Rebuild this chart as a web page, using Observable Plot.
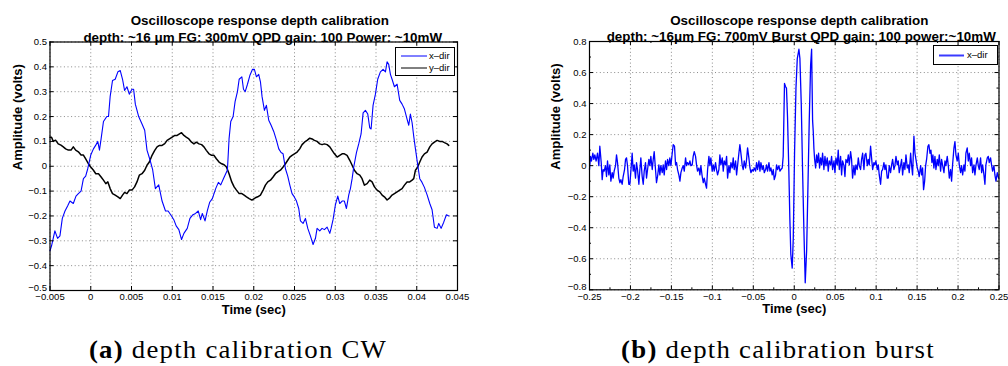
<!DOCTYPE html>
<html>
<head>
<meta charset="utf-8">
<script src="https://cdn.jsdelivr.net/npm/d3@7"></script>
<script src="https://cdn.jsdelivr.net/npm/@observablehq/plot@0.6"></script>
<style>
  html, body { margin: 0; padding: 0; background: #fff; }
  #wrap { position: relative; width: 1008px; height: 366px; overflow: hidden; background: #fff; font-family: "Liberation Sans", Arial, sans-serif; }
  .abs { position: absolute; }
  .legend { position: absolute; background: #fff; border: 1px solid #000; font-size: 9.5px; color: #000; }
  .legend svg { position: absolute; left: 0; top: 0; overflow: visible; }
  .legend .lb { position: absolute; left: 33px; height: 12px; line-height: 12px; white-space: nowrap; }
  .caption { position: absolute; font-family: "Liberation Serif", "DejaVu Serif", serif; font-size: 26px; line-height: 26px; letter-spacing: 1.2px; color: #000; text-align: center; white-space: nowrap; width: 504px; transform: scaleX(1.03); transform-origin: 50% 50%; }
</style>
</head>
<body>
<div id="wrap">
  <div id="p1" class="abs" style="left:0;top:0"></div>
  <div id="p2" class="abs" style="left:504px;top:0"></div>
  <div class="legend" style="left:395px;top:47px;width:58px;height:27px;">
    <svg width="58" height="27"><line x1="5" x2="31" y1="8" y2="8" stroke="#0000ff" stroke-width="1"/><line x1="5" x2="31" y1="20" y2="20" stroke="#000" stroke-width="1"/></svg>
    <div class="lb" style="top:2px">x–dir</div>
    <div class="lb" style="top:14px">y–dir</div>
  </div>
  <div class="legend" style="left:933px;top:45px;width:63px;height:18px;">
    <svg width="63" height="18"><line x1="5" x2="30" y1="9.5" y2="9.5" stroke="#3a3aff" stroke-width="2"/></svg>
    <div class="lb" style="top:3px">x–dir</div>
  </div>
  <div class="caption" style="left:-14px;top:337px;"><b>(a)</b> depth calibration CW</div>
  <div class="caption" style="left:526px;top:337px;"><b>(b)</b> depth calibration burst</div>
</div>
<script>
// ---------- Data: CW depth calibration (time in ms, amplitude in volts) ----------
const cwXdir = [[-5.0,-0.34],[-4.81,-0.32],[-4.40,-0.26],[-4.07,-0.29],[-3.78,-0.28],[-3.49,-0.21],[-3.16,-0.18],[-2.84,-0.16],[-2.55,-0.14],[-2.14,-0.15],[-1.81,-0.12],[-1.52,-0.11],[-1.19,-0.10],[-0.90,-0.05],[-0.62,-0.04],[-0.37,-0.01],[0,0.045],[0.33,0.07],[0.62,0.085],[0.86,0.10],[1.07,0.065],[1.27,0.11],[1.56,0.18],[1.97,0.20],[2.18,0.20],[2.38,0.28],[2.67,0.345],[3.00,0.35],[3.33,0.38],[3.62,0.385],[3.90,0.35],[4.15,0.305],[4.44,0.32],[4.73,0.29],[5.06,0.31],[5.26,0.31],[5.47,0.25],[5.88,0.20],[6.29,0.17],[6.62,0.145],[6.90,0.065],[7.32,0.02],[7.60,-0.015],[7.93,-0.09],[8.34,-0.075],[8.75,-0.14],[9.17,-0.18],[9.49,-0.18],[9.91,-0.20],[10.19,-0.215],[10.48,-0.24],[10.81,-0.255],[11.14,-0.295],[11.43,-0.27],[11.84,-0.25],[12.17,-0.21],[12.54,-0.195],[12.86,-0.19],[13.19,-0.18],[13.48,-0.215],[13.69,-0.19],[14.02,-0.22],[14.30,-0.18],[14.59,-0.145],[14.92,-0.13],[15.33,-0.09],[15.66,-0.065],[15.95,-0.075],[16.28,-0.05],[16.56,-0.03],[16.77,-0.015],[16.97,0.11],[17.18,0.18],[17.47,0.20],[17.71,0.26],[18.00,0.30],[18.21,0.35],[18.54,0.36],[18.74,0.31],[18.95,0.30],[19.23,0.33],[19.52,0.365],[19.85,0.39],[20.08,0.39],[20.33,0.36],[20.61,0.37],[20.82,0.34],[21.02,0.28],[21.31,0.225],[21.55,0.245],[21.84,0.185],[22.13,0.165],[22.45,0.14],[22.78,0.105],[23.07,0.07],[23.35,0.055],[23.60,0.05],[23.89,-0.01],[24.17,-0.04],[24.42,-0.075],[24.70,-0.11],[24.91,-0.12],[25.24,-0.14],[25.52,-0.17],[25.73,-0.22],[26.05,-0.23],[26.34,-0.21],[26.63,-0.25],[26.95,-0.28],[27.28,-0.315],[27.57,-0.29],[27.77,-0.25],[28.10,-0.26],[28.38,-0.25],[28.67,-0.255],[29.00,-0.245],[29.33,-0.27],[29.49,-0.25],[29.73,-0.215],[30.02,-0.155],[30.31,-0.12],[30.55,-0.15],[30.84,-0.14],[31.12,-0.14],[31.37,-0.17],[31.66,-0.115],[31.86,-0.09],[32.07,-0.05],[32.27,-0.003],[32.60,0.055],[32.88,0.09],[33.17,0.13],[33.42,0.215],[33.70,0.225],[33.99,0.21],[34.23,0.155],[34.40,0.15],[34.64,0.245],[34.93,0.29],[35.21,0.35],[35.54,0.38],[35.87,0.39],[36.16,0.38],[36.36,0.42],[36.56,0.41],[36.77,0.37],[36.97,0.35],[37.26,0.32],[37.59,0.33],[37.91,0.265],[38.20,0.25],[38.49,0.23],[38.81,0.19],[39.02,0.165],[39.22,0.21],[39.43,0.175],[39.63,0.12],[39.84,0.07],[40.12,0.005],[40.37,-0.05],[40.65,-0.065],[40.94,-0.085],[41.27,-0.115],[41.60,-0.15],[41.88,-0.175],[42.17,-0.245],[42.50,-0.25],[42.70,-0.23],[42.99,-0.25],[43.31,-0.225],[43.64,-0.195],[43.93,-0.2]];

const cwYdir = [[-5.0,0.117],[-4.81,0.117],[-4.60,0.10],[-4.32,0.105],[-3.99,0.09],[-3.66,0.085],[-3.37,0.078],[-3.08,0.07],[-2.75,0.065],[-2.42,0.065],[-2.14,0.078],[-1.85,0.065],[-1.52,0.058],[-1.19,0.045],[-0.90,0.045],[-0.62,0.03],[-0.29,0.01],[0,-0.003],[0.33,-0.016],[0.62,-0.03],[0.95,-0.03],[1.27,-0.043],[1.56,-0.056],[1.85,-0.07],[2.10,-0.063],[2.38,-0.09],[2.67,-0.11],[3.00,-0.116],[3.33,-0.123],[3.62,-0.13],[3.90,-0.116],[4.15,-0.105],[4.44,-0.11],[4.73,-0.096],[5.06,-0.096],[5.38,-0.083],[5.67,-0.063],[5.96,-0.036],[6.29,-0.03],[6.62,-0.016],[6.90,0.004],[7.19,0.017],[7.52,0.044],[7.85,0.064],[8.14,0.078],[8.43,0.084],[8.75,0.084],[9.08,0.091],[9.37,0.104],[9.66,0.11],[9.99,0.117],[10.32,0.124],[10.60,0.124],[10.89,0.13],[11.14,0.135],[11.43,0.124],[11.71,0.117],[12.04,0.11],[12.37,0.097],[12.66,0.09],[12.95,0.097],[13.28,0.09],[13.60,0.087],[13.89,0.078],[14.18,0.064],[14.51,0.05],[14.84,0.044],[15.12,0.044],[15.41,0.03],[15.74,0.017],[16.07,0.01],[16.36,0.006],[16.65,-0.003],[16.97,-0.03],[17.30,-0.063],[17.59,-0.083],[17.88,-0.096],[18.21,-0.11],[18.54,-0.11],[18.82,-0.116],[19.11,-0.123],[19.44,-0.13],[19.77,-0.136],[20.20,-0.127],[20.49,-0.123],[20.82,-0.116],[21.15,-0.096],[21.43,-0.076],[21.72,-0.063],[22.05,-0.056],[22.37,-0.043],[22.66,-0.03],[22.94,-0.023],[23.27,-0.016],[23.60,-0.003],[23.89,0.01],[24.17,0.024],[24.42,0.037],[24.70,0.044],[24.99,0.05],[25.32,0.057],[25.64,0.07],[25.93,0.087],[26.22,0.097],[26.54,0.104],[26.87,0.113],[27.16,0.11],[27.44,0.104],[27.77,0.10],[28.10,0.09],[28.38,0.087],[28.67,0.09],[29.00,0.087],[29.33,0.078],[29.61,0.064],[29.90,0.05],[30.23,0.037],[30.55,0.044],[30.84,0.05],[31.12,0.05],[31.45,0.044],[31.78,0.024],[32.07,0.004],[32.35,-0.016],[32.68,-0.03],[33.01,-0.036],[33.29,-0.05],[33.58,-0.076],[33.91,-0.07],[34.23,-0.056],[34.52,-0.063],[34.81,-0.083],[35.13,-0.096],[35.46,-0.103],[35.75,-0.116],[36.03,-0.123],[36.36,-0.136],[36.69,-0.127],[36.97,-0.116],[37.26,-0.11],[37.59,-0.103],[37.91,-0.096],[38.20,-0.09],[38.49,-0.076],[38.81,-0.063],[39.14,-0.063],[39.43,-0.056],[39.63,-0.05],[39.84,-0.016],[40.12,-0.003],[40.37,0.017],[40.65,0.037],[40.94,0.05],[41.27,0.057],[41.60,0.078],[41.88,0.09],[42.17,0.097],[42.50,0.104],[42.82,0.10],[43.11,0.10],[43.40,0.095],[43.72,0.09],[43.93,0.084]];

// ---------- Data: burst depth calibration (time in ms, amplitude in volts) ----------
const burstXdir = [[-250.0,-0.025],[-248.8,0.06],[-247.6,0.03],[-245.9,0.08],[-244.7,0.04],[-243.5,0.07],[-241.9,0.03],[-240.2,0.08],[-238.6,0],[-237.4,0.125],[-235.7,0.02],[-234.5,-0.09],[-233.3,-0.025],[-232.1,-0.035],[-230.5,0],[-229.2,-0.07],[-228.0,0.03],[-226.4,-0.06],[-225.2,0.005],[-223.9,-0.1],[-222.3,-0.045],[-221.1,-0.08],[-219.9,-0.035],[-218.2,0],[-217.0,0.07],[-215.8,0.02],[-214.2,-0.08],[-212.9,-0.11],[-211.7,-0.09],[-210.1,-0.12],[-208.9,-0.07],[-207.2,-0.025],[-206.0,0.04],[-204.8,0.05],[-203.6,0],[-202.0,-0.12],[-200.7,-0.12],[-199.5,-0.035],[-197.9,0.08],[-196.7,-0.035],[-195.4,0.005],[-193.8,-0.08],[-192.6,0.02],[-191.4,-0.025],[-189.7,-0.12],[-188.5,-0.025],[-187.3,0.05],[-185.7,-0.07],[-184.4,-0.12],[-183.2,-0.035],[-181.6,0.02],[-180.4,-0.08],[-179.1,-0.025],[-177.5,0.04],[-176.3,0],[-175.1,0.06],[-173.4,-0.025],[-172.2,0.04],[-171.0,0.09],[-169.4,-0.025],[-168.2,-0.11],[-166.9,-0.07],[-165.3,0.005],[-164.1,-0.06],[-162.9,0],[-161.2,-0.045],[-160.0,0.005],[-158.8,-0.06],[-157.2,0.03],[-155.9,-0.025],[-154.7,0.04],[-153.1,0],[-151.9,0.05],[-150.6,0],[-149.0,0.08],[-147.8,0.135],[-146.2,0.125],[-144.9,0.005],[-143.7,0.02],[-142.5,-0.025],[-140.9,-0.06],[-139.6,-0.1],[-138.4,-0.045],[-136.8,-0.015],[-135.6,0],[-134.3,-0.035],[-132.7,0.05],[-131.5,0],[-130.3,0.02],[-128.7,0.005],[-127.4,0.03],[-126.2,0],[-124.6,0.005],[-123.4,0.06],[-122.1,0.09],[-120.5,0.06],[-119.3,0.005],[-118.1,-0.035],[-116.4,-0.015],[-115.2,-0.06],[-114.0,0],[-112.4,-0.07],[-111.1,-0.11],[-109.9,-0.08],[-108.3,-0.12],[-107.1,-0.145],[-105.8,-0.025],[-104.2,0.06],[-103.0,0],[-101.8,0.05],[-100.2,-0.035],[-98.9,0.005],[-97.7,-0.035],[-96.1,0.02],[-94.9,-0.025],[-93.6,-0.06],[-92.0,-0.025],[-90.8,0.07],[-89.6,0.005],[-87.9,0.05],[-86.7,-0.035],[-85.5,0.03],[-83.9,0.005],[-82.6,0.06],[-81.4,-0.08],[-79.8,0],[-78.6,-0.045],[-77.3,0.02],[-75.7,-0.015],[-74.5,0.05],[-73.3,-0.025],[-71.6,0.03],[-70.4,-0.06],[-69.2,0],[-67.6,0.08],[-66.4,0.135],[-64.7,0.06],[-63.5,0],[-62.3,-0.025],[-61.1,0.03],[-59.4,-0.015],[-58.2,0.04],[-57.0,0.115],[-55.4,0.05],[-54.1,-0.015],[-52.9,-0.045],[-51.3,-0.025],[-50.1,-0.035],[-48.8,-0.015],[-47.2,-0.035],[-46.0,0.02],[-44.8,-0.025],[-43.1,0.03],[-41.9,-0.035],[-40.7,0.02],[-39.1,-0.025],[-37.8,0],[-36.6,-0.045],[-35.0,-0.025],[-33.8,0.005],[-32.6,-0.035],[-30.9,0.02],[-29.7,-0.035],[-28.5,-0.015],[-26.9,-0.06],[-25.6,-0.025],[-24.4,-0.09],[-22.8,-0.06],[-21.6,0.005],[-20.3,-0.025],[-18.7,0],[-17.5,-0.035],[-16.3,-0.025],[-14.7,-0.015],[-13.5,0.06],[-11.9,0.53],[-10.7,0.51],[-9.5,0.50],[-8.2,0.31],[-6.6,-0.035],[-5.4,-0.335],[-4.2,-0.57],[-2.5,-0.66],[-1.2,-0.47],[0.4,0.09],[2.1,0.5],[3.7,0.69],[5.7,0.75],[6.9,0.69],[8.6,0.39],[10.2,-0.04],[11.8,-0.42],[13.4,-0.755],[15.1,-0.55],[16.7,-0.14],[18.3,0.29],[20.0,0.65],[21.2,0.75],[22.4,0.29],[23.2,0.22],[24.0,0.11],[24.9,0.04],[26.1,-0.015],[27.3,0.07],[28.5,0.02],[29.7,0.08],[30.9,-0.015],[32.2,0.05],[33.4,0.005],[34.6,0.08],[36.2,-0.025],[37.5,0.06],[38.7,0],[40.3,0.05],[41.5,-0.035],[42.8,0.03],[44.4,0.005],[45.6,0.06],[46.8,-0.025],[48.5,0.03],[49.7,-0.045],[50.9,0.05],[52.5,0.005],[53.7,0.1],[55.0,-0.025],[56.6,0.06],[57.8,-0.06],[59.0,0.03],[60.7,0],[61.9,-0.07],[63.1,0.04],[64.7,0.02],[66.0,0.07],[67.2,0.005],[68.8,0.09],[70.0,0.04],[71.2,-0.08],[72.9,0],[74.1,-0.06],[75.3,0.005],[76.9,-0.025],[78.2,0.05],[79.4,0],[81.0,-0.025],[82.2,0.04],[83.5,0.08],[85.1,-0.025],[86.3,0.07],[87.5,0.08],[89.2,0],[90.4,0.04],[91.6,0.005],[93.2,0.125],[94.4,0.05],[95.7,-0.025],[97.3,0.02],[98.5,0.005],[99.7,0.03],[101.4,-0.025],[102.6,0.005],[103.8,-0.06],[105.4,-0.12],[106.7,-0.035],[107.9,-0.025],[109.5,0.02],[110.7,-0.025],[111.9,0.005],[113.6,-0.08],[114.8,-0.08],[116.0,0],[117.6,-0.045],[118.9,0.005],[120.1,0.04],[121.7,-0.025],[122.9,0],[124.2,0.06],[125.8,0.005],[127.0,0.03],[128.2,-0.045],[129.8,0],[131.1,0.04],[132.3,-0.06],[133.9,0.02],[135.1,-0.025],[136.4,0.07],[138.0,-0.015],[139.2,0.005],[140.4,-0.045],[142.1,0.08],[143.3,0],[144.5,-0.06],[146.1,0.19],[147.4,0.08],[148.6,0.04],[150.2,-0.015],[151.4,-0.035],[152.6,-0.07],[154.3,0],[155.5,-0.06],[156.7,-0.015],[157.9,-0.155],[159.2,-0.1],[160.4,0],[161.6,0.04],[163.2,0.125],[164.4,0.135],[165.7,0.08],[166.9,0.1],[168.1,0.02],[169.3,0.07],[170.5,-0.015],[171.8,0.06],[173.0,-0.025],[174.6,0.04],[175.8,0],[177.1,0.07],[178.7,-0.035],[179.9,0.04],[181.1,0.005],[182.8,-0.045],[184.0,0.03],[185.2,0],[186.8,0.06],[188.1,0],[189.3,-0.08],[190.9,-0.025],[192.1,-0.1],[193.3,0.005],[195.0,0.115],[196.2,0.155],[197.4,0.07],[199.0,0.03],[200.3,0.08],[201.5,0.005],[203.1,-0.045],[204.3,0],[205.6,-0.06],[207.2,0.005],[208.4,-0.035],[209.6,0.08],[211.2,0.115],[212.5,0.03],[213.7,0.08],[215.3,0],[216.5,0.05],[217.8,-0.045],[219.4,0.005],[220.6,-0.06],[221.8,0],[223.5,0.05],[224.7,0],[225.9,-0.025],[227.5,0.05],[228.8,-0.045],[230.0,0.005],[231.6,-0.06],[232.8,-0.12],[234.0,0.005],[235.7,0.05],[236.9,0.06],[238.1,0.02],[239.7,0.05],[240.9,0.005],[242.2,-0.035],[243.8,0],[245.0,-0.06],[246.3,-0.1],[247.9,-0.045],[249.5,-0.08]];

// ---------- Tick values ----------
const cwXTicks = [-0.005, 0, 0.005, 0.01, 0.015, 0.02, 0.025, 0.03, 0.035, 0.04, 0.045];
const cwYTicks = [-0.5, -0.4, -0.3, -0.2, -0.1, 0, 0.1, 0.2, 0.3, 0.4, 0.5];
const burstXTicks = [-0.25, -0.2, -0.15, -0.1, -0.05, 0, 0.05, 0.1, 0.15, 0.2, 0.25];
const burstXMinor = [-0.225, -0.175, -0.125, -0.075, -0.025, 0.025, 0.075, 0.125, 0.175, 0.225];
const burstYTicks = [-0.8, -0.6, -0.4, -0.2, 0, 0.2, 0.4, 0.6, 0.8];
const burstYMinor = [-0.7, -0.5, -0.3, -0.1, 0.1, 0.3, 0.5, 0.7];

const titleCW = ["Oscilloscope response depth calibration", "depth: ~16 μm FG: 300mV QPD gain: 100 Power: ~10mW"];
const titleBurst = ["Oscilloscope response depth calibration", "depth: ~16μm FG: 700mV Burst QPD gain: 100 power:~10mW"];
const xLabel = "Time (sec)";
const yLabel = "Amplitude (volts)";

// ---------- Helpers ----------
const toRows = (pairs) => pairs.map(([ms, v]) => ({t: ms / 1000, v}));
const fmt = (d) => { const s = String(+Math.abs(d).toFixed(4)); return d < 0 ? "−" + s : s; };
const GRID = {stroke: "#8a8a8a", strokeOpacity: 1, strokeWidth: 1, strokeDasharray: "1,2.6"};

function matlabAxes({W, H, ml, mr, mt, mb, xDomain, yDomain, xTicks, yTicks, xMinor = [], yMinor = [], lines, title, titleDx, tMajor = 4, tMinor = 2, yLabelDx}) {
  const fw = W - ml - mr, fh = H - mt - mb;
  return Plot.plot({
    width: W, height: H,
    marginLeft: ml, marginRight: mr, marginTop: mt, marginBottom: mb,
    x: {domain: xDomain},
    y: {domain: yDomain},
    style: {fontFamily: "'Liberation Sans', Arial, sans-serif", fontSize: "9.5px", color: "#000", background: "transparent", overflow: "visible"},
    marks: [
      Plot.gridX(xTicks, {...GRID}),
      Plot.gridY(yTicks, {...GRID}),
      ...lines,
      Plot.axisX(xTicks, {tickSize: 0, tickPadding: 3, tickFormat: fmt, label: null, fontSize: 9.5}),
      Plot.axisY(yTicks.slice(1), {tickSize: 0, tickPadding: 3, tickFormat: fmt, label: null, fontSize: 9.5}),
      Plot.axisY(yTicks.slice(0, 1), {tickSize: 0, tickPadding: 3, tickFormat: fmt, label: null, fontSize: 9.5, dy: -3}),
      Plot.ruleX(xTicks, {x: d => d, insetTop: fh - tMajor, stroke: "#000"}),
      Plot.ruleX(xTicks, {x: d => d, insetBottom: fh - tMajor, stroke: "#000"}),
      Plot.ruleY(yTicks, {y: d => d, insetRight: fw - tMajor, stroke: "#000"}),
      Plot.ruleY(yTicks, {y: d => d, insetLeft: fw - tMajor, stroke: "#000"}),
      Plot.ruleX(xMinor, {x: d => d, insetTop: fh - tMinor, stroke: "#000"}),
      Plot.ruleX(xMinor, {x: d => d, insetBottom: fh - tMinor, stroke: "#000"}),
      Plot.ruleY(yMinor, {y: d => d, insetRight: fw - tMinor, stroke: "#000"}),
      Plot.ruleY(yMinor, {y: d => d, insetLeft: fw - tMinor, stroke: "#000"}),
      Plot.frame({stroke: "#000", strokeWidth: 1.2}),
      Plot.text([xLabel], {text: d => d, frameAnchor: "bottom", dy: 23.5, fontWeight: "bold", fontSize: 13}),
      Plot.text([yLabel], {text: d => d, frameAnchor: "left", dx: yLabelDx, dy: 4, rotate: -90, fontWeight: "bold", fontSize: 13}),
      Plot.text([title[0]], {text: d => d, frameAnchor: "top", dx: titleDx[0], dy: -26.5, fontWeight: "bold", fontSize: 13.4}),
      Plot.text([title[1]], {text: d => d, frameAnchor: "top", dx: titleDx[1], dy: -10, fontWeight: "bold", fontSize: 13.4})
    ]
  });
}

const p1 = matlabAxes({
  W: 504, H: 330, ml: 49.5, mr: 47, mt: 41.5, mb: 40,
  xDomain: [-0.005, 0.045], yDomain: [-0.5, 0.5],
  xTicks: cwXTicks, yTicks: cwYTicks,
  title: titleCW, titleDx: [6, 9], yLabelDx: -32,
  lines: [
    Plot.line(toRows(cwYdir), {x: "t", y: "v", stroke: "#000", strokeWidth: 1.5, strokeLinejoin: "round"}),
    Plot.line(toRows(cwXdir), {x: "t", y: "v", stroke: "#0000ff", strokeWidth: 1.1, strokeLinejoin: "round"})
  ]
});
document.getElementById("p1").appendChild(p1);

const p2 = matlabAxes({
  W: 504, H: 330, ml: 85, mr: 9.5, mt: 41, mb: 40.7,
  xDomain: [-0.25, 0.25], yDomain: [-0.8, 0.8],
  xTicks: burstXTicks, yTicks: burstYTicks, xMinor: burstXMinor, yMinor: burstYMinor,
  title: titleBurst, titleDx: [5, 7], yLabelDx: -34,
  lines: [
    Plot.line(toRows(burstXdir), {x: "t", y: "v", stroke: "#0000ff", strokeWidth: 1.3, strokeLinejoin: "round"})
  ]
});
document.getElementById("p2").appendChild(p2);
</script>
</body>
</html>
